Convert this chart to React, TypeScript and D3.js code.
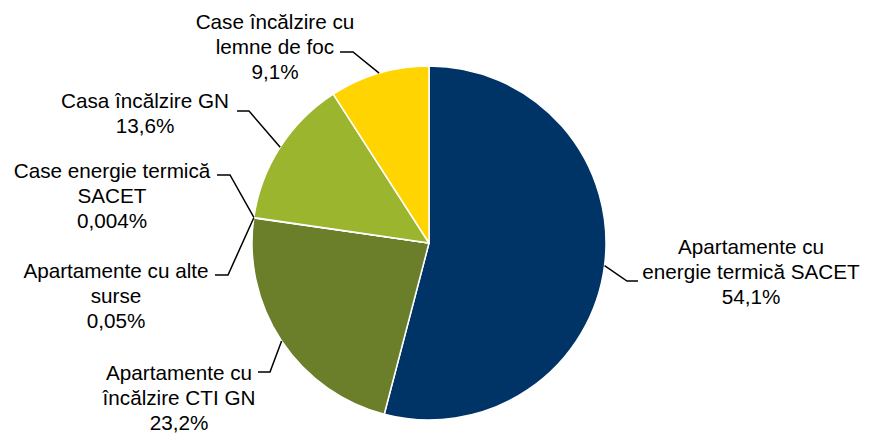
import React from "react";
import * as d3 from "d3";

// ---- data ----
const categories = [
  "Apartamente cu energie termică SACET",
  "Apartamente cu încălzire CTI GN",
  "Apartamente cu alte surse",
  "Case energie termică SACET",
  "Casa încălzire GN",
  "Case încălzire cu lemne de foc",
];
const values = [54.1, 23.2, 0.05, 0.004, 13.6, 9.1];
const valueLabels = ["54,1%", "23,2%", "0,05%", "0,004%", "13,6%", "9,1%"];
const labelLines = [
  ["Apartamente cu", "energie termică SACET"],
  ["Apartamente cu", "încălzire CTI GN"],
  ["Apartamente cu alte", "surse"],
  ["Case energie termică", "SACET"],
  ["Casa încălzire GN"],
  ["Case încălzire cu", "lemne de foc"],
];
const colors = ["#003366", "#6B7F2B", "#4F6228", "#C3D69B", "#9BB52F", "#FFD400"];

// ---- layout (label placement) ----
const W = 869;
const H = 433;
const CX = 429;
const CY = 243;
const R = 177;
const FONT = 20.7;
const LINE_H = 25;
const labelLayout = [
  { tx: 751, ty: 254, ex: 627, hx: 638, hy: 281 },
  { tx: 179, ty: 380, ex: 270, hx: 258, hy: 372 },
  { tx: 116, ty: 278, ex: 228, hx: 215, hy: 275 },
  { tx: 112, ty: 178, ex: 230, hx: 217, hy: 175 },
  { tx: 145, ty: 108, ex: 249, hx: 237, hy: 111 },
  { tx: 275, ty: 29, ex: 353, hx: 340, hy: 52 },
];

export default function App() {
  const data = categories.map((c, i) => ({ name: c, value: values[i], i }));
  const pie = d3
    .pie<any>()
    .sort(null)
    .value((d: any) => d.value)
    .startAngle(0)
    .endAngle(2 * Math.PI);
  const arcs = pie(data);
  const arc = d3.arc<any>().innerRadius(0).outerRadius(R);
  const pointOn = (a: number, r: number) => [Math.sin(a) * r, -Math.cos(a) * r];

  return (
    <div style={{ position: "absolute", left: 0, top: 0, width: W, height: H, background: "#fff" }}>
      <svg width={W} height={H} style={{ display: "block" }} fontFamily="'Liberation Sans', Arial, sans-serif">
        <rect width={W} height={H} fill="#fff" />
        <g transform={`translate(${CX},${CY})`}>
          {arcs.map((a, i) => (
            <path key={i} d={arc(a) as string} fill={colors[i]} stroke="#fff" strokeWidth={1.5} strokeLinejoin="round" />
          ))}
        </g>
        {arcs.map((a, i) => {
          const L = labelLayout[i];
          const mid = (a.startAngle + a.endAngle) / 2;
          const [px, py] = pointOn(mid, R);
          const lines = [...labelLines[i], valueLabels[i]];
          return (
            <g key={"l" + i}>
              <polyline
                points={`${CX + px},${CY + py} ${L.ex},${L.hy} ${L.hx},${L.hy}`}
                fill="none"
                stroke="#000"
                strokeWidth={1.5}
              />
              <text x={L.tx} y={L.ty} textAnchor="middle" fontSize={FONT} fill="#000">
                {lines.map((t, j) => (
                  <tspan key={j} x={L.tx} y={L.ty + j * LINE_H}>
                    {t}
                  </tspan>
                ))}
              </text>
            </g>
          );
        })}
      </svg>
    </div>
  );
}
